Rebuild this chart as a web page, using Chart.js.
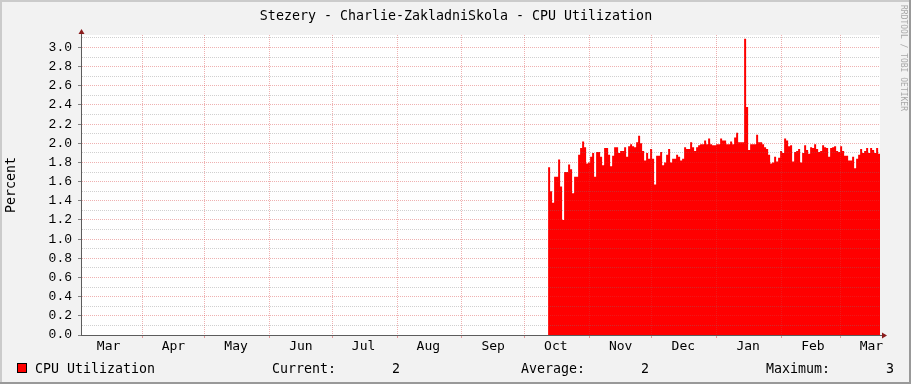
<!DOCTYPE html>
<html lang="en">
<head>
    <meta charset="UTF-8">
    <title>Stezery - Charlie-ZakladniSkola - CPU Utilization</title>
    <script src="https://cdn.jsdelivr.net/npm/chart.js"></script>
    <style>
        html, body { margin: 0; padding: 0; background: #f2f2f2; }
        canvas { display: block; }
    </style>
</head>
<body>
    <canvas id="cpuChart" width="911" height="384"></canvas>
    <script>
        // time axis is counted in days from 1 March of the first year
        const monthNames = ["Mar", "Apr", "May", "Jun", "Jul", "Aug", "Sep", "Oct", "Nov", "Dec", "Jan", "Feb", "Mar"];
        const monthStartDays = [0, 31, 61, 92, 122, 153, 184, 214, 245, 275, 306, 337, 365];
        const viewStartDay = 1.8;
        const viewEndDay = 384.1;

        // samples every ~23 h, first one on 12 Oct
        const sampleStartDay = 225.3;
        const sampleStepDays = 0.957;
        const cpuUtilization = [
            1.75, 1.50, 1.38, 1.65, 1.65, 1.83, 1.55, 1.20, 1.70, 1.70,
            1.78, 1.73, 1.48, 1.65, 1.65, 1.88, 1.95, 2.02, 1.96, 1.79,
            1.80, 1.86, 1.90, 1.65, 1.91, 1.91, 1.86, 1.77, 1.95, 1.95,
            1.88, 1.76, 1.87, 1.96, 1.96, 1.90, 1.92, 1.92, 1.96, 1.86,
            1.97, 1.99, 1.97, 1.96, 2.01, 2.08, 2.00, 1.92, 1.82, 1.90,
            1.84, 1.94, 1.84, 1.57, 1.87, 1.87, 1.91, 1.77, 1.80, 1.88,
            1.94, 1.80, 1.84, 1.84, 1.88, 1.86, 1.82, 1.84, 1.96, 1.94,
            1.94, 2.01, 1.96, 1.92, 1.96, 1.98, 1.99, 1.99, 2.03, 1.99,
            2.05, 1.99, 1.98, 1.98, 1.99, 1.99, 2.05, 2.03, 2.03, 1.99,
            1.99, 2.02, 1.99, 2.06, 2.11, 2.01, 2.01, 2.01, 3.09, 2.38,
            1.93, 1.99, 1.99, 1.99, 2.09, 2.01, 2.01, 1.99, 1.96, 1.94,
            1.88, 1.79, 1.80, 1.86, 1.81, 1.85, 1.92, 1.90, 2.05, 2.03,
            1.97, 1.98, 1.81, 1.91, 1.92, 1.94, 1.80, 1.90, 1.98, 1.93,
            1.89, 1.96, 1.95, 1.99, 1.94, 1.91, 1.92, 1.98, 1.96, 1.95,
            1.86, 1.95, 1.96, 1.97, 1.92, 1.91, 1.97, 1.92, 1.87, 1.87,
            1.82, 1.82, 1.86, 1.74, 1.84, 1.88, 1.94, 1.90, 1.92, 1.95,
            1.90, 1.95, 1.93, 1.90, 1.95, 1.89, 1.86
        ];

        const yMax = 3.13;
        const yTickValues = Array.from({ length: 32 }, (_, i) => i / 10);
        const monthLabelDays = monthStartDays.map(d => d + 15);

        const isMajor = v => Math.round(v * 10) % 2 === 0;
        const majorGrid = "rgba(215, 60, 60, 0.4)";
        const minorGrid = "rgba(120, 120, 120, 0.35)";
        const axisColor = "#5c5c5c";
        const arrowColor = "#8b1c1c";
        const mono = '"DejaVu Sans Mono", monospace';

        const fmt = v => v.toFixed(0).padStart(8, " ");

        const rrdFrame = {
            id: "rrdFrame",
            beforeDraw(chart) {
                const { ctx, width, height, chartArea: a } = chart;
                ctx.save();
                ctx.fillStyle = "#f2f2f2";
                ctx.fillRect(0, 0, width, height);
                ctx.fillStyle = "#cbcbcb";
                ctx.fillRect(0, 0, width, 2);
                ctx.fillRect(0, 0, 2, height);
                ctx.fillStyle = "#999999";
                ctx.fillRect(width - 2, 0, 2, height);
                ctx.fillRect(0, height - 2, width, 2);
                ctx.fillStyle = "#ffffff";
                ctx.fillRect(a.left, a.top, a.right - a.left, a.bottom - a.top);
                ctx.restore();
            },
            afterDraw(chart) {
                const { ctx, chartArea: a } = chart;
                const ds = chart.data.datasets[0];
                ctx.save();

                // axis extensions + arrows
                const ax = a.left + 0.5, ay = a.bottom + 0.5;
                ctx.strokeStyle = axisColor;
                ctx.lineWidth = 1;
                ctx.beginPath();
                ctx.moveTo(ax, a.top); ctx.lineTo(ax, a.top - 3);
                ctx.moveTo(a.right, ay); ctx.lineTo(a.right + 3, ay);
                ctx.stroke();
                ctx.fillStyle = arrowColor;
                ctx.beginPath();
                ctx.moveTo(ax, a.top - 6); ctx.lineTo(ax - 3, a.top - 1); ctx.lineTo(ax + 3, a.top - 1);
                ctx.closePath(); ctx.fill();
                ctx.beginPath();
                ctx.moveTo(a.right + 7, ay); ctx.lineTo(a.right + 2, ay - 3); ctx.lineTo(a.right + 2, ay + 3);
                ctx.closePath(); ctx.fill();

                // title
                ctx.fillStyle = "#000";
                ctx.font = "13.3px " + mono;
                ctx.textAlign = "center";
                ctx.textBaseline = "alphabetic";
                ctx.fillText("Stezery - Charlie-ZakladniSkola - CPU Utilization", 456, 19.5);

                // legend row
                ctx.textAlign = "left";
                ctx.fillStyle = ds.backgroundColor;
                ctx.fillRect(17, 363, 10, 10);
                ctx.strokeStyle = "#000";
                ctx.strokeRect(17.5, 363.5, 9, 9);
                ctx.fillStyle = "#000";
                ctx.fillText(ds.label, 35, 373);
                const vals = ds.data.map(p => p.y);
                const current = vals[vals.length - 1];
                const average = vals.reduce((s, v) => s + v, 0) / vals.length;
                const maximum = Math.max(...vals);
                ctx.fillText("Current:" + fmt(current), 272, 373);
                ctx.fillText("Average:" + fmt(average), 521, 373);
                ctx.fillText("Maximum:" + fmt(maximum), 766, 373);

                // watermark
                ctx.translate(903, 5);
                ctx.rotate(Math.PI / 2);
                ctx.font = "8px " + mono;
                ctx.fillStyle = "#a8a8a8";
                ctx.textBaseline = "middle";
                ctx.fillText("RRDTOOL / TOBI OETIKER", 0, 0);
                ctx.restore();
            }
        };

        const ctx = document.getElementById("cpuChart").getContext("2d");
        new Chart(ctx, {
            type: "line",
            data: {
                datasets: [{
                    label: "CPU Utilization",
                    data: cpuUtilization.map((v, i) => ({ x: sampleStartDay + i * sampleStepDays, y: v })),
                    xAxisID: "x",
                    yAxisID: "y",
                    stepped: true,
                    fill: "origin",
                    backgroundColor: "#ff0000",
                    borderColor: "rgba(0,0,0,0)",
                    borderWidth: 0,
                    pointRadius: 0
                }]
            },
            options: {
                responsive: false,
                animation: false,
                devicePixelRatio: 1,
                layout: { padding: { top: 35, right: 31, left: 0, bottom: 0 } },
                plugins: {
                    legend: { display: false },
                    tooltip: { enabled: false },
                    title: { display: false }
                },
                scales: {
                    x: {
                        type: "linear",
                        position: "bottom",
                        min: viewStartDay,
                        max: viewEndDay,
                        afterBuildTicks: s => {
                            s.ticks = monthStartDays.filter(d => d > viewStartDay && d < viewEndDay).map(d => ({ value: d }));
                        },
                        afterFit: s => { s.height = 3; },
                        ticks: { display: false },
                        grid: { z: 1, color: majorGrid, tickLength: 3, tickColor: "#e29a9a" },
                        border: { z: 2, color: axisColor, width: 1, dash: [1, 1] }
                    },
                    xl: {
                        type: "linear",
                        position: "bottom",
                        min: viewStartDay,
                        max: viewEndDay,
                        afterBuildTicks: s => {
                            s.ticks = monthLabelDays.map(d => ({ value: d }));
                        },
                        afterFit: s => { s.height = 46; },
                        ticks: {
                            autoSkip: false,
                            maxRotation: 0,
                            minRotation: 0,
                            padding: 1,
                            color: "#000",
                            font: { family: mono, size: 13 },
                            callback: (v, i) => monthNames[i]
                        },
                        grid: { display: false, drawTicks: false },
                        border: { display: false }
                    },
                    y: {
                        type: "linear",
                        min: 0,
                        max: yMax,
                        afterBuildTicks: s => {
                            s.ticks = yTickValues.map(v => ({ value: v }));
                        },
                        afterFit: s => { s.width = 81; },
                        ticks: {
                            autoSkip: false,
                            padding: 6,
                            color: "#000",
                            font: { family: '"Liberation Mono", monospace', size: 13 },
                            callback: v => isMajor(v) ? v.toFixed(1) : ""
                        },
                        grid: {
                            z: 1,
                            tickLength: 3,
                            color: c => (c.tick && !isMajor(c.tick.value)) ? minorGrid : majorGrid,
                            tickColor: c => (c.tick && isMajor(c.tick.value)) ? "#808080" : "rgba(0,0,0,0)"
                        },
                        border: { z: 2, color: axisColor, width: 1, dash: [1, 1] },
                        title: {
                            display: true,
                            text: "Percent",
                            color: "#000",
                            font: { family: mono, size: 13.3 },
                            padding: { top: 4, bottom: 0 }
                        }
                    }
                }
            },
            plugins: [rrdFrame]
        });
    </script>
</body>
</html>
